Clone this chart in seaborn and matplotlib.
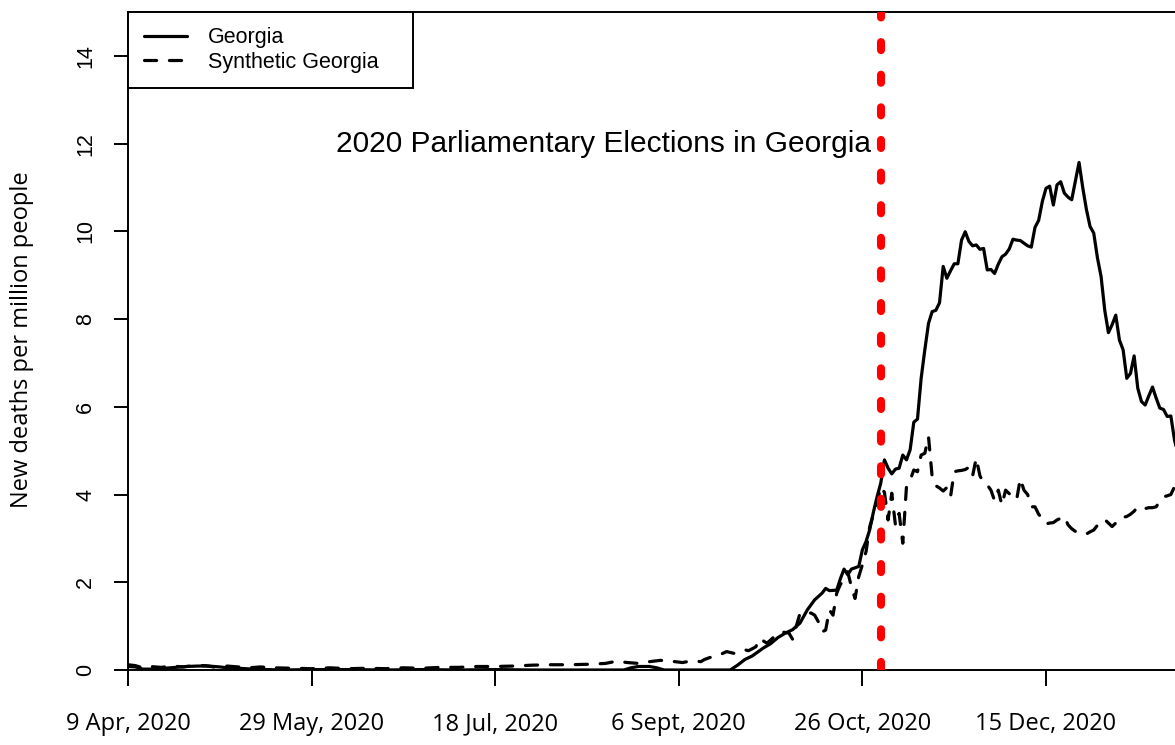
import numpy as np
import pandas as pd
import matplotlib
matplotlib.use("Agg")
import matplotlib.pyplot as plt
import seaborn as sns

# ---------------- data (days since 9 Apr 2020) ----------------
georgia_days = [0, 2, 4, 7, 10, 13, 16, 19, 22, 25, 27, 30, 34, 38, 42, 50, 60, 70, 80, 90,
                100, 110, 120, 130, 135, 137, 139, 142, 144, 146, 155, 164,
                166, 168, 170, 171, 173, 175, 177, 179, 181, 183, 185, 187, 189, 190, 191, 193,
                194, 195, 196, 197, 199, 200, 201, 202, 203, 204, 205, 206, 207, 208, 209, 210,
                211, 212, 213, 214, 215, 216, 217, 218, 219, 220, 221, 222, 223, 224, 225, 226,
                227, 228, 229, 230, 231, 232, 233, 234, 235, 236, 237, 238, 239, 240, 241, 242,
                243, 244, 245, 246, 247, 248, 249, 250, 251, 252, 253, 254, 255, 256, 257, 259,
                260, 261, 262, 263, 264, 265, 266, 267, 268, 269, 270, 271, 272, 273, 274, 275,
                276, 277, 278, 279, 280, 281, 282, 283, 284, 285, 286]
georgia_vals = [0.08, 0.07, 0.02, 0.02, 0.04, 0.06, 0.08, 0.09, 0.09, 0.07, 0.05, 0.04, 0.02, 0.01, 0.0, 0.01, 0.01, 0.0, 0.01, 0.0,
                0.01, 0.0, 0.0, 0.0, 0.0, 0.05, 0.08, 0.08, 0.05, 0.0, 0.0, 0.0,
                0.11, 0.24, 0.32, 0.38, 0.50, 0.60, 0.74, 0.84, 0.92, 1.07, 1.37, 1.60, 1.75, 1.86, 1.81, 1.82,
                2.08, 2.30, 2.17, 2.30, 2.36, 2.74, 2.93, 3.20, 3.60, 3.95, 4.26, 4.79, 4.60, 4.47, 4.58, 4.60,
                4.90, 4.79, 5.02, 5.65, 5.72, 6.65, 7.30, 7.90, 8.17, 8.20, 8.37, 9.20, 8.93, 9.10, 9.26, 9.26,
                9.80, 9.99, 9.77, 9.67, 9.69, 9.59, 9.61, 9.12, 9.13, 9.04, 9.25, 9.42, 9.48, 9.60, 9.82, 9.80,
                9.79, 9.73, 9.67, 9.64, 10.09, 10.25, 10.68, 10.98, 11.03, 10.60, 11.06, 11.13, 10.87, 10.78, 10.72, 11.57,
                11.00, 10.50, 10.11, 9.96, 9.40, 8.97, 8.20, 7.69, 7.87, 8.09, 7.52, 7.30, 6.65, 6.76, 7.16, 6.42,
                6.12, 6.04, 6.25, 6.45, 6.20, 5.97, 5.94, 5.78, 5.79, 5.24, 4.90]

synth_days = [0, 2, 4, 6, 9, 12, 15, 18, 21, 24, 27, 30, 33, 36, 40, 45, 50, 55, 60, 65,
              70, 75, 80, 85, 90, 95, 100, 105, 110, 115, 120, 125, 130, 133, 136, 139, 142, 145,
              148, 151, 153, 155, 156, 157, 159, 161, 162, 163, 165, 166, 168, 169, 171, 172, 174,
              176, 177, 178, 180, 181, 182, 183, 184, 185, 186, 187, 188, 189, 190, 191, 192, 193,
              194, 195, 196, 197, 198, 199, 200, 201, 202, 203, 204, 205, 206, 207, 208, 209, 210,
              211, 212, 213, 214, 215, 216, 217, 218, 219, 220, 221, 222, 223, 224, 225, 226, 227,
              228, 229, 230, 231, 232, 233, 234, 235, 236, 237, 238, 239, 240, 241, 242, 243, 244,
              245, 246, 247, 248, 249, 250, 251, 252, 253, 254, 255, 256, 257, 258, 259, 260, 261,
              262, 263, 264, 265, 266, 267, 268, 269, 270, 271, 272, 273, 274, 275, 276, 277, 278,
              279, 280, 281, 282, 283, 284, 285, 286]
synth_vals = [0.12, 0.10, 0.05, 0.08, 0.06, 0.09, 0.07, 0.10, 0.10, 0.06, 0.09, 0.07, 0.05, 0.07, 0.05, 0.04, 0.03, 0.05, 0.03, 0.04,
              0.03, 0.05, 0.04, 0.06, 0.06, 0.08, 0.08, 0.09, 0.11, 0.12, 0.12, 0.13, 0.15, 0.20, 0.17, 0.15, 0.19, 0.22,
              0.20, 0.17, 0.20, 0.20, 0.19, 0.24, 0.30, 0.34, 0.38, 0.42, 0.38, 0.40, 0.46, 0.44, 0.53, 0.72, 0.61,
              0.76, 0.80, 0.87, 0.84, 0.70, 1.00, 1.29, 1.30, 1.29, 1.30, 1.25, 1.10, 0.87, 0.91, 1.37, 1.25, 1.75,
              1.95, 2.05, 2.24, 1.90, 1.63, 2.13, 2.40, 2.70, 3.27, 3.55, 3.80, 4.18, 4.05, 3.42, 4.03, 3.30, 3.57,
              2.89, 4.18, 4.33, 4.56, 4.52, 4.90, 4.94, 5.32, 4.40, 4.20, 4.15, 4.08, 4.16, 3.95, 4.52, 4.54, 4.55,
              4.57, 4.62, 4.42, 4.83, 4.43, 4.26, 4.22, 4.10, 3.86, 4.10, 3.76, 4.10, 4.02, 3.95, 3.88, 4.36, 4.10,
              4.00, 3.72, 3.72, 3.55, 3.45, 3.33, 3.35, 3.36, 3.42, 3.46, 3.50, 3.31, 3.22, 3.16, 3.12, 3.10, 3.10,
              3.15, 3.19, 3.30, 3.38, 3.43, 3.35, 3.27, 3.35, 3.46, 3.48, 3.50, 3.55, 3.62, 3.72, 3.70, 3.68, 3.70,
              3.70, 3.72, 3.85, 3.95, 3.97, 4.00, 4.18, 4.25]

tick_days = [0, 50, 100, 150, 200, 250]
tick_labels = ["9 Apr, 2020", "29 May, 2020", "18 Jul, 2020", "6 Sept, 2020", "26 Oct, 2020", "15 Dec, 2020"]
y_ticks = [0, 2, 4, 6, 8, 10, 12, 14]
election_day = 205
series_names = ["Georgia", "Synthetic Georgia"]

# ---------------- plot ----------------
sns.set_style("ticks")
plt.rcParams["font.family"] = ["Liberation Sans", "DejaVu Sans"]
plt.rcParams["text.color"] = "black"
plt.rcParams["axes.labelcolor"] = "black"
plt.rcParams["xtick.color"] = "black"
plt.rcParams["ytick.color"] = "black"

fig = plt.figure(figsize=(11.75, 7.45), dpi=100)
ax = fig.add_axes([128 / 1175, 75 / 745, 1047 / 1175, 658 / 745])

df_g = pd.DataFrame({"day": georgia_days, "value": georgia_vals})
df_s = pd.DataFrame({"day": synth_days, "value": synth_vals})

sns.lineplot(data=df_g, x="day", y="value", ax=ax, color="black", lw=2.3,
             label=series_names[0], solid_capstyle="round", solid_joinstyle="round",
             estimator=None, sort=True)
sns.lineplot(data=df_s, x="day", y="value", ax=ax, color="black", lw=2.3,
             linestyle=(0, (3.8, 4.0)), dash_capstyle="round", dash_joinstyle="round",
             label=series_names[1], estimator=None, sort=True)

ax.axvline(election_day, color="#ff0000", lw=5.8, linestyle=(0, (1.0, 3.05)),
           dash_capstyle="round", zorder=5)

ax.text(202.3, 12.0, "2020 Parliamentary Elections in Georgia", ha="right", va="center",
        fontsize=21.5, color="black")

ax.set_xlim(0, 1047 / 3.672)
ax.set_ylim(0, 15.0)

ax.set_xticks(tick_days)
ax.set_xticklabels(tick_labels, fontfamily=["Open Sans", "DejaVu Sans"], fontsize=17, color="black")
ax.set_yticks(y_ticks)
ax.set_yticklabels([str(v) for v in y_ticks], rotation=90, va="center", fontsize=15.5, color="black")

ax.tick_params(axis="x", length=11.5, width=1.4, pad=19, direction="out", color="black")
ax.tick_params(axis="y", length=10, width=1.4, pad=13, direction="out", color="black")

for side in ["left", "top", "bottom"]:
    ax.spines[side].set_visible(True)
    ax.spines[side].set_linewidth(1.4)
    ax.spines[side].set_color("black")
ax.spines["right"].set_visible(False)

ax.set_xlabel("")
ax.set_ylabel("")
fig.text(22 / 1175, 1 - 340 / 745, "New deaths per million people", rotation=90,
         ha="center", va="center", fontsize=17, color="black",
         fontfamily=["Open Sans", "DejaVu Sans"])

leg = ax.legend(loc="upper left", bbox_to_anchor=(0, 1, 285 / 1047, 0), mode="expand",
                borderaxespad=0, fancybox=False, frameon=True, fontsize=15.5,
                handlelength=2.0, handletextpad=1.0, labelspacing=0.15, borderpad=0.72)
frame = leg.get_frame()
frame.set_edgecolor("black")
frame.set_linewidth(1.4)
frame.set_alpha(1)
for txt in leg.get_texts():
    txt.set_color("black")
for line in leg.get_lines():
    line.set_linewidth(2.3)

fig.savefig("out.png", dpi=100)
